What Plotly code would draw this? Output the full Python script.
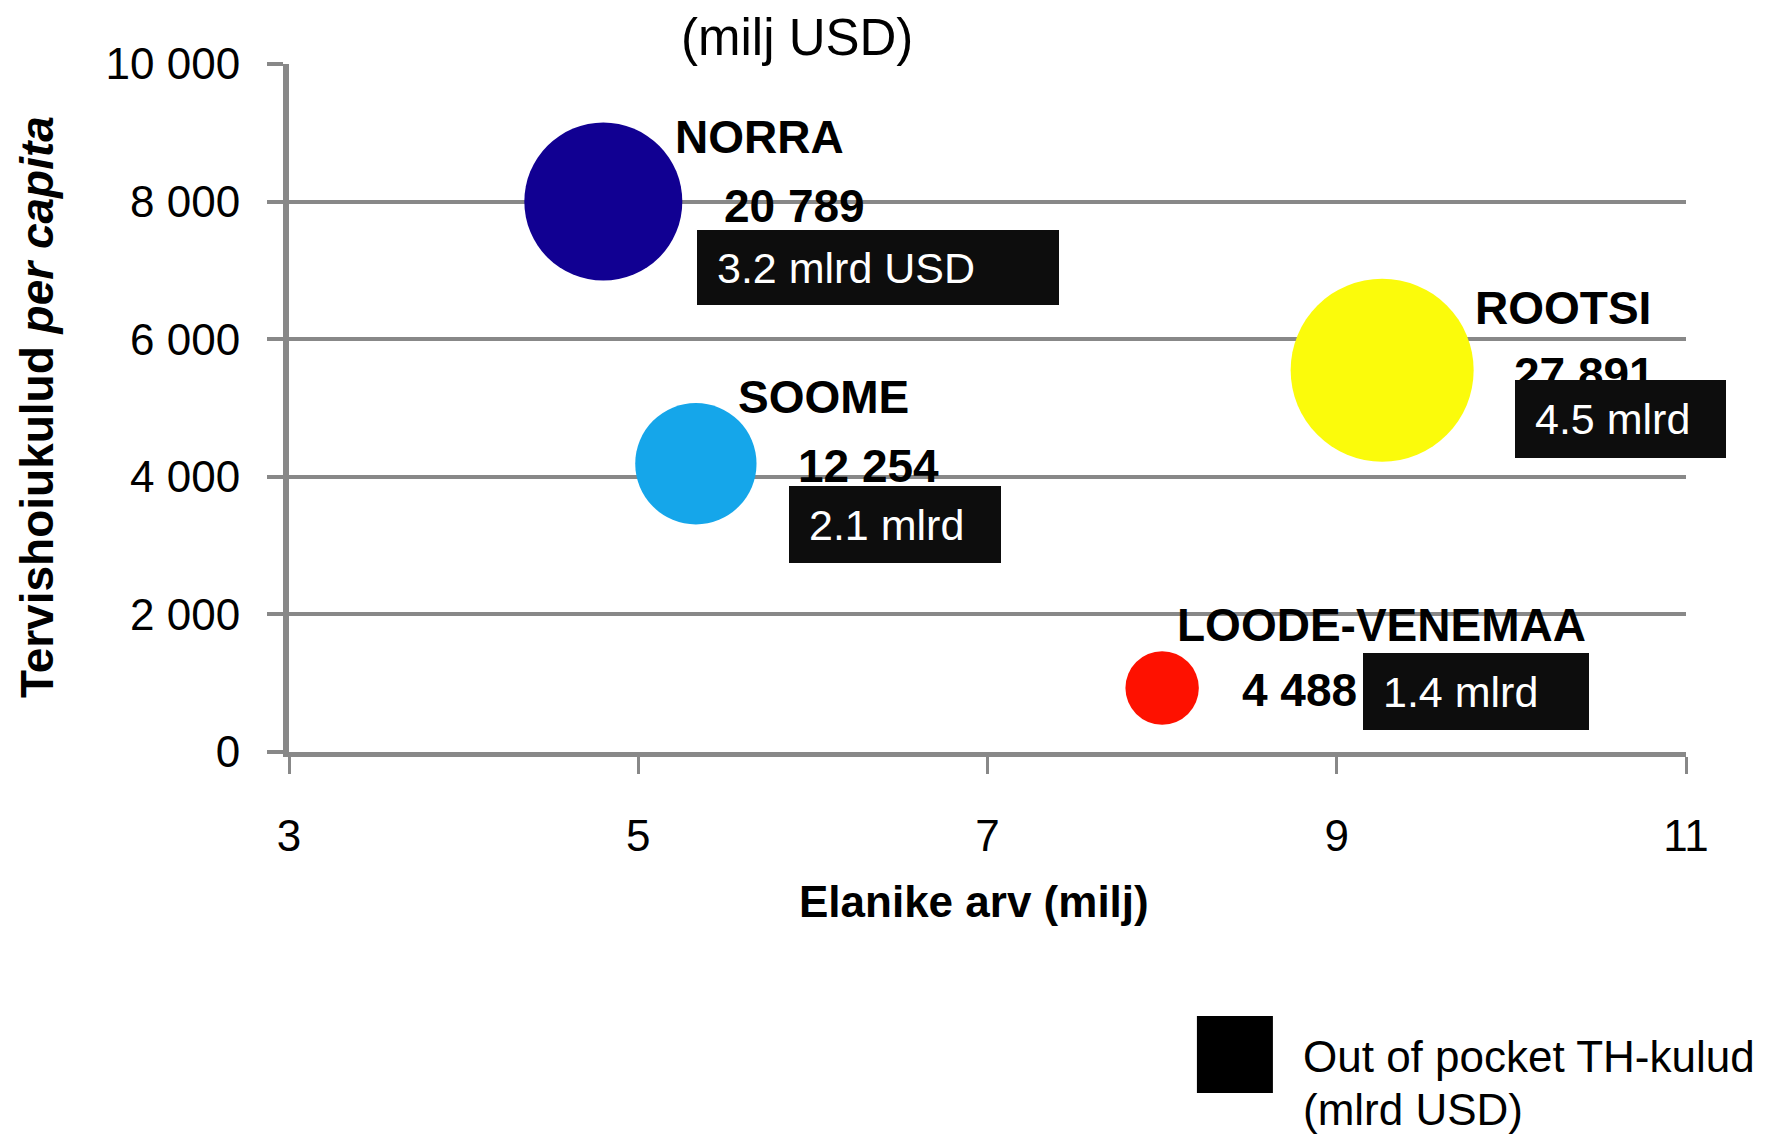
import plotly.graph_objects as go

# ---- data ----
countries = ["NORRA", "SOOME", "ROOTSI", "LOODE-VENEMAA"]
population_milj = [4.8, 5.33, 9.26, 8.0]
spend_per_capita = [8000, 4190, 5550, 930]
total_spend_milj_usd = [20789, 12254, 27891, 4488]
oop_labels = ["3.2 mlrd USD", "2.1 mlrd", "4.5 mlrd", "1.4 mlrd"]

x_ticks = [3, 5, 7, 9, 11]
y_ticks = [0, 2000, 4000, 6000, 8000, 10000]
y_tick_labels = ["0", "2 000", "4 000", "6 000", "8 000", "10 000"]

# ---- styles ----
FONT = "Liberation Sans, Arial, sans-serif"
bubble_colors = ["#110092", "#15A6EA", "#FBFB0B", "#FE1100"]
AXIS_GRAY = "#888888"
BOX_BG = "#0d0d0d"
MAX_DIAMETER = 183

# pixel offsets of the labels relative to the bubble centre
name_shift = [(70, 65), (40, 67), (91, 62), (13, 63)]
value_shift = [(119, -4), (100, -2), (130, -4), (78, -2)]
box_shift = [(94, -66), (93, -61), (133, -49), (201, -3)]
box_size = [(362, 75), (212, 77), (211, 78), (226, 77)]

fig = go.Figure()
fig.add_trace(go.Scatter(
    x=population_milj,
    y=spend_per_capita,
    mode="markers",
    marker=dict(
        size=total_spend_milj_usd,
        sizemode="area",
        sizeref=2.0 * max(total_spend_milj_usd) / (MAX_DIAMETER ** 2),
        color=bubble_colors,
        line=dict(width=0),
        opacity=1,
    ),
    showlegend=False,
    hoverinfo="skip",
))

annotations = []
for i, name in enumerate(countries):
    x, y = population_milj[i], spend_per_capita[i]
    annotations.append(dict(
        x=x, y=y, xref="x", yref="y", text="<b>%s</b>" % name,
        showarrow=False, xanchor="left", yanchor="middle",
        xshift=name_shift[i][0], yshift=name_shift[i][1],
        font=dict(family=FONT, size=46, color="black"),
    ))
    annotations.append(dict(
        x=x, y=y, xref="x", yref="y",
        text="<b>%s</b>" % f"{total_spend_milj_usd[i]:,}".replace(",", " "),
        showarrow=False, xanchor="left", yanchor="middle",
        xshift=value_shift[i][0], yshift=value_shift[i][1],
        font=dict(family=FONT, size=46, color="black"),
    ))
    pad = 20
    annotations.append(dict(
        x=x, y=y, xref="x", yref="y", text=oop_labels[i],
        showarrow=False, xanchor="left", yanchor="middle",
        xshift=box_shift[i][0], yshift=box_shift[i][1],
        bgcolor=BOX_BG, borderpad=pad, borderwidth=0,
        width=box_size[i][0] - 2 * pad, height=box_size[i][1] - 2 * pad,
        align="left", valign="middle",
        font=dict(family=FONT, size=43, color="white"),
    ))

# axis titles, partial chart title, legend text
annotations += [
    dict(xref="paper", yref="paper", x=-0.1808, y=0.502, textangle=-90,
         text="<b>Tervishoiukulud <i>per capita</i></b>", showarrow=False,
         xanchor="center", yanchor="middle",
         font=dict(family=FONT, size=46, color="black")),
    dict(xref="paper", yref="paper", x=0.4902, y=-0.2166,
         text="<b>Elanike arv (milj)</b>", showarrow=False,
         xanchor="center", yanchor="middle",
         font=dict(family=FONT, size=44, color="black")),
    dict(xref="paper", yref="paper", x=0.3634, y=1.0392,
         text="(milj USD)", showarrow=False,
         xanchor="center", yanchor="middle",
         font=dict(family=FONT, size=51, color="black")),
    dict(xref="paper", yref="paper", x=0.7243, y=-0.4419,
         text="Out of pocket TH-kulud", showarrow=False,
         xanchor="left", yanchor="middle",
         font=dict(family=FONT, size=44, color="black")),
    dict(xref="paper", yref="paper", x=0.7243, y=-0.5203,
         text="(mlrd USD)", showarrow=False,
         xanchor="left", yanchor="middle",
         font=dict(family=FONT, size=44, color="black")),
]

shapes = [
    dict(type="rect", xref="paper", yref="paper",
         x0=0.6499, x1=0.7043, y0=-0.4956, y1=-0.3837,
         fillcolor="black", line=dict(width=0), layer="above"),
]

# the page body adds an 8 px offset, so the figure is 8 px smaller than the window
fig.update_layout(
    width=1758, height=1128,
    margin=dict(l=281, r=80, t=56, b=384),
    paper_bgcolor="white", plot_bgcolor="white",
    font=dict(family=FONT, size=44, color="black"),
    annotations=annotations,
    shapes=shapes,
    showlegend=False,
)
fig.update_xaxes(
    range=[3, 11], tickvals=x_ticks, ticktext=[str(v) for v in x_ticks],
    showgrid=False, zeroline=False,
    showline=True, linecolor=AXIS_GRAY, linewidth=5,
    ticks="outside", ticklen=17, tickwidth=3, tickcolor=AXIS_GRAY,
    ticklabelstandoff=24,
    tickfont=dict(family=FONT, size=44, color="black"),
)
fig.update_yaxes(
    range=[0, 10000], tickvals=y_ticks, ticktext=y_tick_labels,
    showgrid=True, gridcolor=AXIS_GRAY, gridwidth=4, zeroline=False,
    showline=True, linecolor=AXIS_GRAY, linewidth=6,
    ticks="outside", ticklen=16, tickwidth=4, tickcolor=AXIS_GRAY,
    ticklabelstandoff=18,
    tickfont=dict(family=FONT, size=44, color="black"),
)

fig.write_html("out.html")
